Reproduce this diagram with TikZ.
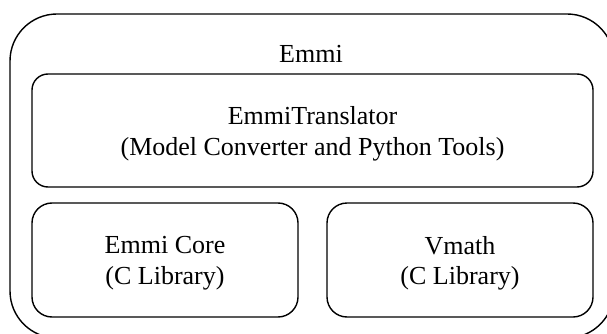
\documentclass[tikz,border=0pt]{standalone}
\usepackage{fontspec}
\setmainfont{Liberation Serif}
\begin{document}
\begin{tikzpicture}[x=1pt,y=-1pt,
  box/.style={draw=black,line width=1.4pt},
  lbl/.style={inner sep=0pt,align=center,font=\fontsize{26}{30.5}\selectfont}]
\useasboundingbox (0,0) rectangle (607,334);
\clip (0,0) rectangle (607,334);
\draw[box,rounded corners=47pt] (10,14) rectangle (614,338);
\draw[box,rounded corners=16pt] (32,74) rectangle (593,187);
\draw[box,rounded corners=20pt] (32,203) rectangle (298,317);
\draw[box,rounded corners=20pt] (327,203) rectangle (593,317);
\node[lbl,anchor=base] (emmi) at (311,63) {Emmi};
\node[lbl] (trans) at (312.5,134) {EmmiTranslator\\(Model Converter and Python Tools)};
\node[lbl] (core) at (165,263.4) {Emmi Core\\(C Library)};
\node[lbl] (vmath) at (460,263.4) {Vmath\\(C Library)};
\end{tikzpicture}
\end{document}
